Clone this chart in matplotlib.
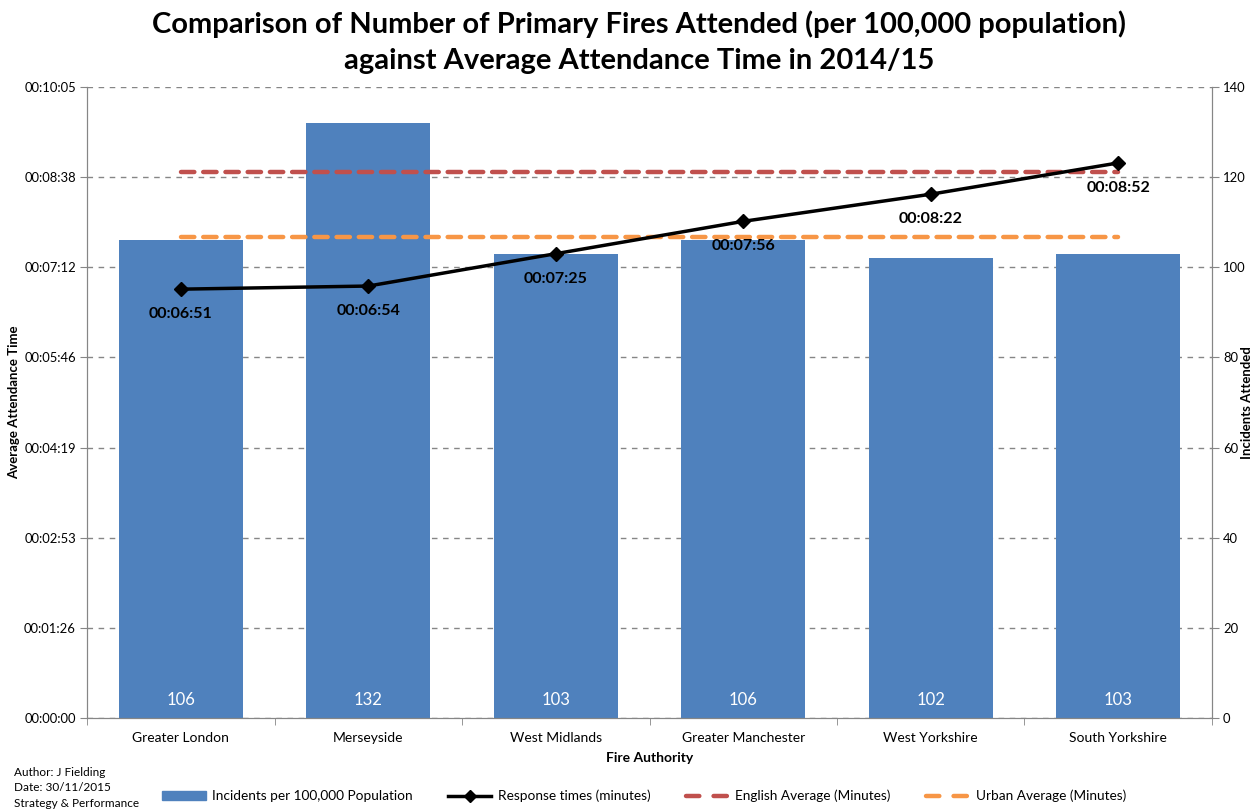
import matplotlib
matplotlib.use("Agg")
import matplotlib.pyplot as plt
from matplotlib.lines import Line2D
from matplotlib.patches import Patch
from matplotlib.ticker import FuncFormatter, MultipleLocator
import numpy as np

authorities = ["Greater London", "Merseyside", "West Midlands", "Greater Manchester",
               "West Yorkshire", "South Yorkshire"]
incidents = [106, 132, 103, 106, 102, 103]
response_secs = [411, 414, 445, 476, 502, 532]   # 6:51, 6:54, 7:25, 7:56, 8:22, 8:52
english_avg_secs = 523
urban_avg_secs = 461

plt.rcParams['font.family'] = ['Lato', 'DejaVu Sans']

fig = plt.figure(figsize=(12.58, 8.09), dpi=100)
ax = fig.add_axes([0.0692, 0.1125, 0.8942, 0.78])
ax2 = ax.twinx()

x = np.arange(len(authorities))
grey = '#868686'

# bars on right axis
bars = ax.bar(x, incidents, width=0.66, color='#4F81BD', zorder=2)
ax.set_ylim(0, 140)
ax.set_xlim(-0.5, len(authorities) - 0.5)
ax.yaxis.set_major_locator(MultipleLocator(20))
ax.yaxis.tick_right()
ax.grid(axis='y', color=grey, linestyle=(0, (4, 4)), linewidth=1.0, zorder=0)
ax.set_axisbelow(True)
for xi, v in zip(x, incidents):
    ax.text(xi, 4, f"{v}", ha='center', va='center', color='white', fontsize=12)

# time axis on left
ax2.yaxis.tick_left()
ax2.set_ylim(0, 604.8)
ax2.yaxis.set_major_locator(MultipleLocator(86.4))

def fmt(v, pos):
    s = int(round(v))
    return f"{s//3600:02d}:{(s % 3600)//60:02d}:{s % 60:02d}"
ax2.yaxis.set_major_formatter(FuncFormatter(fmt))

ax2.plot(x, [english_avg_secs]*len(x), color='#C0504D', linestyle=(0, (3, 2)),
         linewidth=3.2, dash_capstyle='round', zorder=3)
ax2.plot(x, [urban_avg_secs]*len(x), color='#F79646', linestyle=(0, (3, 2)),
         linewidth=3.2, dash_capstyle='round', zorder=3)
ax2.plot(x, response_secs, color='black', linewidth=2.5, marker='D', markersize=7, zorder=4)
for xi, v in zip(x, response_secs):
    ax2.annotate(fmt(v, None), (xi, v), xytext=(0, -13), textcoords='offset points',
                 ha='center', va='top', fontsize=11.5, fontweight='bold', zorder=5)

for a in (ax, ax2):
    a.spines['top'].set_visible(False)
    for s in ('left', 'right', 'bottom'):
        a.spines[s].set_color(grey)
    a.tick_params(axis='y', colors=grey, labelcolor='black', labelsize=9.4, length=5,
                  pad=3)

ax.set_xticks(x)
ax.set_xticklabels(authorities, fontsize=10)
ax.set_xticks(np.arange(-0.5, len(authorities)), minor=True)
ax.tick_params(axis='x', which='major', length=0, pad=10)
ax.tick_params(axis='x', which='minor', length=5, color=grey)

ax.set_xlabel("Fire Authority", fontsize=10, fontweight='bold', labelpad=6)
fig.text(0.0115, 0.5025, "Average Attendance Time", fontsize=9.5, fontweight='bold',
         rotation=90, ha='center', va='center')
fig.text(0.9915, 0.5025, "Incidents Attended", fontsize=9.5, fontweight='bold',
         rotation=90, ha='center', va='center')

fig.text(0.508, 0.948, "Comparison of Number of Primary Fires Attended (per 100,000 population)\n"
         "against Average Attendance Time in 2014/15", ha='center', va='center',
         fontsize=21, fontweight='bold', linespacing=1.45)

handles = [Patch(color='#4F81BD'),
           Line2D([], [], color='black', linewidth=2.5, marker='D', markersize=6),
           Line2D([], [], color='#C0504D', linewidth=3.2, linestyle=(0, (3.0, 3.2)),
                  dash_capstyle='round'),
           Line2D([], [], color='#F79646', linewidth=3.2, linestyle=(0, (3.0, 3.2)),
                  dash_capstyle='round')]
labels = ["Incidents per 100,000 Population", "Response times (minutes)",
          "English Average (Minutes)", "Urban Average (Minutes)"]
fig.legend(handles, labels, loc='center', bbox_to_anchor=(0.512, 0.016), ncol=4,
           frameon=False, fontsize=9.8, handlelength=3.2, columnspacing=2.6,
           handletextpad=0.45, handleheight=0.55)

fig.text(0.011, 0.0445, "Author: J Fielding", fontsize=8.5, va='center')
fig.text(0.011, 0.026, "Date: 30/11/2015", fontsize=8.5, va='center')
fig.text(0.011, 0.007, "Strategy & Performance", fontsize=8.5, va='center')

fig.savefig("out.png", dpi=100)
